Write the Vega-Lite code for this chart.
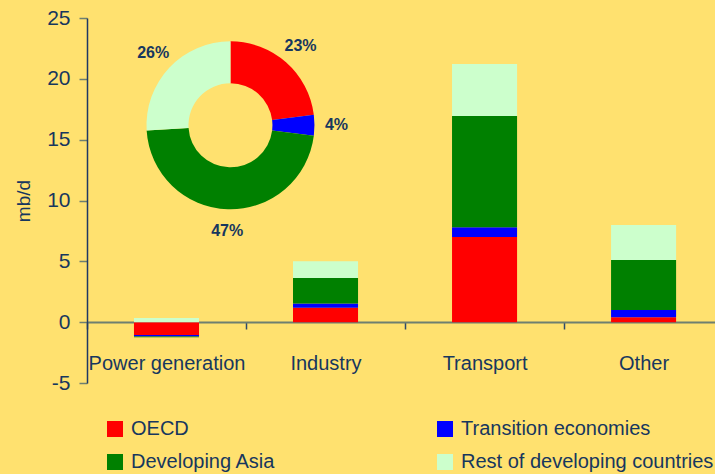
{
  "$schema": "https://vega.github.io/schema/vega-lite/v6.json",
  "autosize": {"type": "none"},
  "width": 628,
  "height": 365,
  "padding": {"left": 87, "top": 18, "right": 0, "bottom": 91},
  "background": "#FFE16F",
  "config": {
    "view": {"stroke": null},
    "font": "Liberation Sans",
    "axis": {"labelFont": "Liberation Sans", "titleFont": "Liberation Sans"},
    "legend": {"labelFont": "Liberation Sans"}
  },
  "datasets": {
    "bars": [
      {"sector": "Power generation", "region": "OECD", "rank": 1, "value": -1.05},
      {"sector": "Power generation", "region": "Transition economies", "rank": 2, "value": -0.13},
      {"sector": "Power generation", "region": "Developing Asia", "rank": 3, "value": -0.06},
      {"sector": "Power generation", "region": "Rest of developing countries", "rank": 4, "value": 0.35},
      {"sector": "Industry", "region": "OECD", "rank": 1, "value": 1.18},
      {"sector": "Industry", "region": "Transition economies", "rank": 2, "value": 0.36},
      {"sector": "Industry", "region": "Developing Asia", "rank": 3, "value": 2.1},
      {"sector": "Industry", "region": "Rest of developing countries", "rank": 4, "value": 1.37},
      {"sector": "Transport", "region": "OECD", "rank": 1, "value": 6.99},
      {"sector": "Transport", "region": "Transition economies", "rank": 2, "value": 0.82},
      {"sector": "Transport", "region": "Developing Asia", "rank": 3, "value": 9.13},
      {"sector": "Transport", "region": "Rest of developing countries", "rank": 4, "value": 4.28},
      {"sector": "Other", "region": "OECD", "rank": 1, "value": 0.41},
      {"sector": "Other", "region": "Transition economies", "rank": 2, "value": 0.58},
      {"sector": "Other", "region": "Developing Asia", "rank": 3, "value": 4.11},
      {"sector": "Other", "region": "Rest of developing countries", "rank": 4, "value": 2.88}
    ],
    "pie": [
      {"region": "OECD", "rank": 1, "share": 23, "label": "23%"},
      {"region": "Transition economies", "rank": 2, "share": 4, "label": "4%"},
      {"region": "Developing Asia", "rank": 3, "share": 47, "label": "47%"},
      {"region": "Rest of developing countries", "rank": 4, "share": 26, "label": "26%"}
    ]
  },
  "layer": [
    {
      "data": {"name": "bars"},
      "mark": {"type": "bar"},
      "encoding": {
        "x": {
          "field": "sector", "type": "nominal",
          "scale": {"domain": ["Power generation", "Industry", "Transport", "Other"], "paddingInner": 0.591, "paddingOuter": 0.27, "align": 0.547},
          "axis": {
            "title": null, "orient": "bottom", "offset": -61,
            "domainColor": "#6E7F70", "domainWidth": 2,
            "tickColor": "#2F4A6A", "tickSize": 7, "tickWidth": 1.5,
            "tickOffset": -79.5, "labelOffset": 79.5,
            "labelAngle": 0, "labelFontSize": 20, "labelColor": "#17375E",
            "labelPadding": 24, "labelOverlap": false, "labelLimit": 300
          }
        },
        "y": {
          "field": "value", "type": "quantitative",
          "scale": {"domain": [-5, 25], "nice": false, "zero": false},
          "axis": {
            "title": "mb/d", "titleFontSize": 19, "titleFontWeight": "normal", "titleColor": "#17375E", "titlePadding": 13,
            "values": [-5, 0, 5, 10, 15, 20, 25],
            "labelExpr": "replace(datum.label, '\u2212', '-')",
            "grid": false, "domainColor": "#1F3864", "domainWidth": 1.5,
            "tickColor": "#6E7F70", "tickSize": 8, "tickWidth": 1.5,
            "labelFontSize": 21, "labelColor": "#17375E", "labelPadding": 9
          }
        },
        "color": {
          "field": "region", "type": "nominal",
          "scale": {
            "domain": ["OECD", "Transition economies", "Developing Asia", "Rest of developing countries"],
            "range": ["#FF0000", "#0000FF", "#008000", "#CCFFCC"]
          },
          "legend": {
            "title": null, "orient": "none", "direction": "horizontal", "legendX": 18, "legendY": 401,
            "columns": 2, "columnPadding": 159, "rowPadding": 13,
            "symbolType": "square", "symbolSize": 256, "symbolStrokeWidth": 0, "symbolOpacity": 1,
            "labelFontSize": 20, "labelColor": "#17375E", "labelOffset": 6, "labelLimit": 400
          }
        },
        "order": {"field": "rank", "type": "quantitative"}
      }
    },
    {
      "data": {"name": "pie"},
      "mark": {"type": "arc", "innerRadius": 42, "outerRadius": 84},
      "encoding": {
        "x": {"datum": "Power generation", "bandPosition": 1.4837},
        "y": {"datum": 16.18},
        "theta": {"field": "share", "type": "quantitative", "stack": true},
        "color": {"field": "region", "type": "nominal"},
        "order": {"field": "rank", "type": "quantitative"}
      }
    },
    {
      "data": {"name": "pie"},
      "mark": {"type": "text", "radius": 106, "fontSize": 16, "fontWeight": "bold", "color": "#17375E"},
      "encoding": {
        "x": {"datum": "Power generation", "bandPosition": 1.4837},
        "y": {"datum": 16.18},
        "theta": {"field": "share", "type": "quantitative", "stack": true},
        "order": {"field": "rank", "type": "quantitative"},
        "text": {"field": "label"}
      }
    },
    {
      "mark": {"type": "text", "fontSize": 16, "fontWeight": "bold", "color": "#17375E"},
      "encoding": {
        "x": {"datum": "Power generation", "bandPosition": 1.4837},
        "y": {"datum": 16.18},
        "text": {"value": "33.9 mb/d"}
      }
    },
    {
      "mark": {"type": "rule", "color": "#1F3864", "strokeWidth": 2},
      "encoding": {"y": {"datum": 25}}
    },
    {
      "mark": {"type": "rule", "color": "#6E7F70", "strokeWidth": 2},
      "encoding": {"y": {"datum": -5}}
    }
  ]
}
